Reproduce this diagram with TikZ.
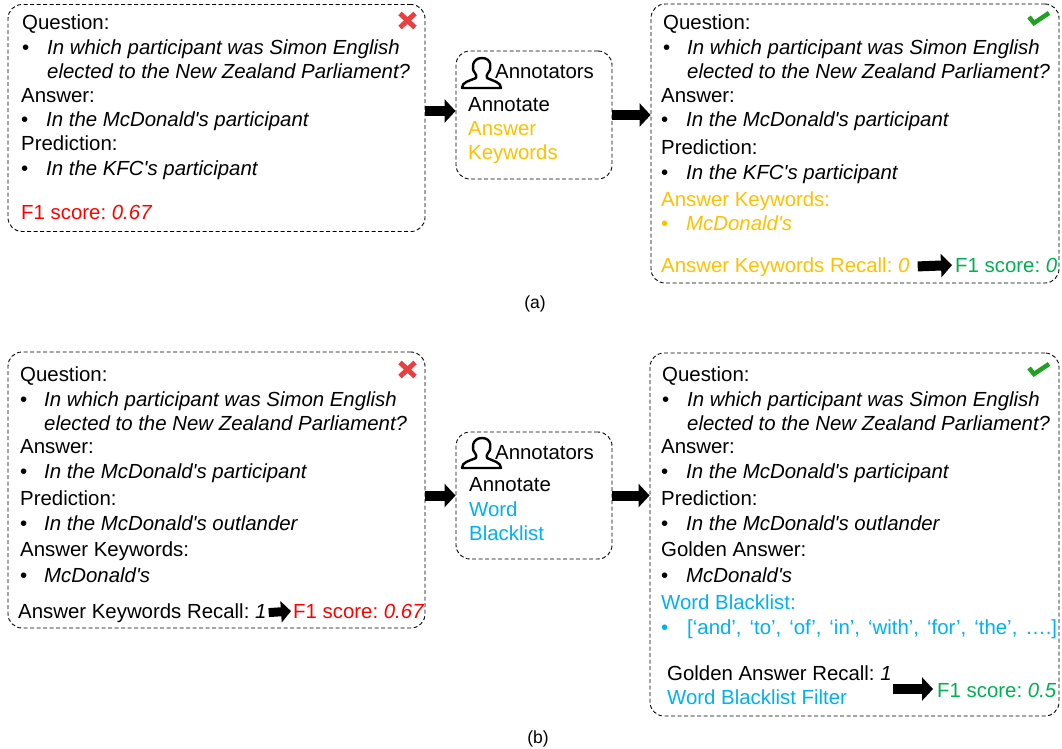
\documentclass[tikz,border=0pt]{standalone}
\usepackage{fontspec}
\setmainfont{Liberation Sans}
\usepackage{tikz}
\usetikzlibrary{arrows.meta,positioning}
\definecolor{keyorange}{HTML}{FFC000}
\definecolor{listblue}{HTML}{00B0F0}
\definecolor{okgreen}{HTML}{00B050}
\definecolor{badred}{HTML}{FF0000}
\definecolor{crossred}{HTML}{E84040}
\definecolor{checkgreen}{HTML}{22A022}
\newcommand{\aps}{\textquotesingle}
\newcommand{\crossmark}[2]{\draw[line width=5pt,color=crossred] (#1-7.5,#2-7) -- (#1+7.5,#2+7) (#1-7.5,#2+7) -- (#1+7.5,#2-7);}
\newcommand{\checkmark}[2]{\draw[line width=4.5pt,color=checkgreen] (#1-10,#2-1) -- (#1-5,#2+5) -- (#1+10,#2-5);}
\newcommand{\personmark}[2]{\draw[line width=2.4pt,line join=round,line cap=round,shift={(#1,#2)}] (1,31) .. controls (1,25) and (8,24) .. (15,21) .. controls (16,19) and (15,18) .. (14,16) .. controls (10,12) and (11,1) .. (21,1) .. controls (31,1) and (31,12) .. (27,16) .. controls (26,18) and (25,19) .. (26,21) .. controls (32,24) and (40,25) .. (40,31) -- cycle;}
\tikzset{
txt/.style={anchor=base west,inner sep=0pt,font=\fontsize{20.4}{22}\selectfont\frenchspacing},
dashbox/.style={draw,dash pattern=on 4pt off 2.5pt,rounded corners=14pt,line width=0.9pt,inner sep=0pt},
fatarrow/.style={line width=10pt,-{Triangle[length=11pt,width=23pt]}},
thinarrow/.style={line width=9pt,-{Triangle[length=10pt,width=21pt]}}
}
\begin{document}
\begin{tikzpicture}[x=1pt,y=-1pt]
\useasboundingbox (0,0) rectangle (1062,748);
% boxes
\node[dashbox,minimum width=417pt,minimum height=227pt] (qaleft) at (216.5,118) {};
\node[dashbox,minimum width=156pt,minimum height=128pt] (annotop) at (534,115) {};
\node[dashbox,minimum width=408pt,minimum height=279pt] (qaright) at (855,143.5) {};
\node[dashbox,minimum width=417pt,minimum height=276pt] (qbleft) at (216.5,490) {};
\node[dashbox,minimum width=156pt,minimum height=127pt] (annobot) at (534,495.5) {};
\node[dashbox,minimum width=409pt,minimum height=363pt] (qbright) at (854.5,534.5) {};
% top left
\node[txt] (a1) at (22,29) {Question:};
\node[txt] (a2) at (22,54) {\textbullet};
\node[txt] (a3) at (47,54) {\textit{In which participant was Simon English}};
\node[txt] (a4) at (47,78) {\textit{elected to the New Zealand Parliament?}};
\node[txt] (a5) at (21,102) {Answer:};
\node[txt] (a6) at (21,126) {\textbullet};
\node[txt] (a7) at (46,126) {\textit{In the McDonald\aps s participant}};
\node[txt] (a8) at (21,150) {Prediction:};
\node[txt] (a9) at (21,175) {\textbullet};
\node[txt] (a10) at (46,175) {\textit{In the KFC\aps s participant}};
\node[txt,badred] (a11) at (21,219) {F1 score: \textit{0.67}};
\crossmark{407.5}{20.5}
% top middle
\personmark{461}{57}
\node[txt] (n1) at (495,78) {Annotators};
\node[txt] (n2) at (468,111) {Annotate};
\node[txt,keyorange] (n3) at (468,135) {Answer};
\node[txt,keyorange] (n4) at (468,159) {Keywords};
% top right
\node[txt] (c1) at (663,29) {Question:};
\node[txt] (c2) at (663,54) {\textbullet};
\node[txt] (c3) at (687,54) {\textit{In which participant was Simon English}};
\node[txt] (c4) at (687,78) {\textit{elected to the New Zealand Parliament?}};
\node[txt] (c5) at (661,102) {Answer:};
\node[txt] (c6) at (661,126) {\textbullet};
\node[txt] (c7) at (686,126) {\textit{In the McDonald\aps s participant}};
\node[txt] (c8) at (661,154) {Prediction:};
\node[txt] (c9) at (661,179) {\textbullet};
\node[txt] (c10) at (686,179) {\textit{In the KFC\aps s participant}};
\node[txt,keyorange] (c11) at (661,206) {Answer Keywords:};
\node[txt,keyorange] (c12) at (661,230) {\textbullet};
\node[txt,keyorange] (c13) at (686,230) {\textit{McDonald\aps s}};
\node[txt,keyorange] (c14) at (661,272) {Answer Keywords Recall: \textit{0}};
\node[txt,okgreen] (c15) at (955,272) {F1 score: \textit{0}};
\checkmark{1039}{18}
% bottom left
\node[txt] (b1) at (20,381) {Question:};
\node[txt] (b2) at (20,406) {\textbullet};
\node[txt] (b3) at (44,406) {\textit{In which participant was Simon English}};
\node[txt] (b4) at (44,430) {\textit{elected to the New Zealand Parliament?}};
\node[txt] (b5) at (20,453) {Answer:};
\node[txt] (b6) at (20,478) {\textbullet};
\node[txt] (b7) at (44,478) {\textit{In the McDonald\aps s participant}};
\node[txt] (b8) at (20,505) {Prediction:};
\node[txt] (b9) at (20,530) {\textbullet};
\node[txt] (b10) at (44,530) {\textit{In the McDonald\aps s outlander}};
\node[txt] (b11) at (20,556) {Answer Keywords:};
\node[txt] (b12) at (20,582) {\textbullet};
\node[txt] (b13) at (44,582) {\textit{McDonald\aps s}};
\node[txt] (b14) at (18,618) {Answer Keywords Recall: \textit{1}};
\node[txt,badred] (b15) at (293,618) {F1 score: \textit{0.67}};
\crossmark{407.5}{369.5}
% bottom middle
\personmark{461}{437}
\node[txt] (m1) at (495,459) {Annotators};
\node[txt] (m2) at (469,491) {Annotate};
\node[txt,listblue] (m3) at (469,516) {Word};
\node[txt,listblue] (m4) at (469,540) {Blacklist};
% bottom right
\node[txt] (d1) at (662,381) {Question:};
\node[txt] (d2) at (662,406) {\textbullet};
\node[txt] (d3) at (687,406) {\textit{In which participant was Simon English}};
\node[txt] (d4) at (687,430) {\textit{elected to the New Zealand Parliament?}};
\node[txt] (d5) at (661,453) {Answer:};
\node[txt] (d6) at (661,478) {\textbullet};
\node[txt] (d7) at (686,478) {\textit{In the McDonald\aps s participant}};
\node[txt] (d8) at (661,505) {Prediction:};
\node[txt] (d9) at (661,530) {\textbullet};
\node[txt] (d10) at (686,530) {\textit{In the McDonald\aps s outlander}};
\node[txt] (d11) at (661,556) {Golden Answer:};
\node[txt] (d12) at (661,582) {\textbullet};
\node[txt] (d13) at (686,582) {\textit{McDonald\aps s}};
\node[txt,listblue] (d14) at (661,609) {Word Blacklist:};
\node[txt,listblue] (d15) at (661,634) {\textbullet};
\node[txt,listblue] (d16) at (687,634) {\makebox[370pt][s]{[‘and’, ‘to’, ‘of’, ‘in’, ‘with’, ‘for’, ‘the’, ….]}};
\node[txt] (d17) at (667,680) {Golden Answer Recall: \textit{1}};
\node[txt,listblue] (d18) at (667,704) {Word Blacklist Filter};
\node[txt,okgreen] (d19) at (937,697) {F1 score: \textit{0.5}};
\coordinate (dfrom) at (893,689);
\checkmark{1039}{369}
% captions
\node[inner sep=0pt,anchor=base,font=\fontsize{17.5}{20}\selectfont] (capa) at (535,308) {(a)};
\node[inner sep=0pt,anchor=base,font=\fontsize{17.5}{20}\selectfont] (capb) at (538,743) {(b)};
% arrows
\draw[fatarrow] (qaleft.east |- 0,111) -- (annotop.west |- 0,111);
\draw[fatarrow] (annotop.east) -- (qaright.west |- annotop.east);
\draw[fatarrow] (qbleft.east |- annobot.west) -- (annobot.west);
\draw[fatarrow] (annobot.east) -- (qbright.west |- annobot.east);
\draw[fatarrow,shorten <=8pt,shorten >=3pt] (c14.east) -- (c15.west);
\draw[thinarrow,shorten <=2pt,shorten >=2pt] (b14.east) -- (b15.west);
\draw[fatarrow,shorten >=4pt] (dfrom) -- (d19.west |- dfrom);
\end{tikzpicture}
\end{document}
